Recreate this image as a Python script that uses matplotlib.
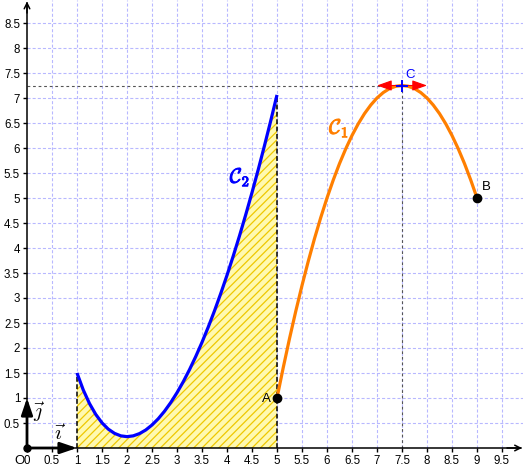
import matplotlib
matplotlib.use("Agg")
import matplotlib.pyplot as plt
import matplotlib.patheffects as pe

plt.rcParams["font.family"] = ["Liberation Sans", "DejaVu Sans"]
plt.rcParams["mathtext.fontset"] = "cm"
plt.rcParams["lines.scale_dashes"] = False
plt.rcParams["hatch.linewidth"] = 0.9

# curve C2 (blue)
c2_x = [1, 1.125, 1.25, 1.375, 1.5, 1.625, 1.75, 1.875, 2, 2.125, 2.25, 2.375, 2.5,
        2.625, 2.75, 2.875, 3, 3.125, 3.25, 3.375, 3.5, 3.625, 3.75, 3.875, 4,
        4.125, 4.25, 4.375, 4.5, 4.625, 4.75, 4.875, 5]
c2_y = [1.5, 1.162, 0.889, 0.672, 0.503, 0.378, 0.293, 0.243, 0.227, 0.243, 0.288,
        0.360, 0.460, 0.585, 0.735, 0.909, 1.106, 1.325, 1.567, 1.830, 2.114, 2.419,
        2.744, 3.090, 3.455, 3.840, 4.244, 4.667, 5.109, 5.569, 6.049, 6.546, 7.062]

# curve C1 (orange)
c1_x = [5, 5.125, 5.25, 5.375, 5.5, 5.625, 5.75, 5.875, 6, 6.125, 6.25, 6.375, 6.5,
        6.625, 6.75, 6.875, 7, 7.125, 7.25, 7.375, 7.5, 7.625, 7.75, 7.875, 8,
        8.125, 8.25, 8.375, 8.5, 8.625, 8.75, 8.875, 9]
c1_y = [1, 1.609, 2.188, 2.734, 3.25, 3.734, 4.188, 4.609, 5, 5.359, 5.688, 5.984,
        6.25, 6.484, 6.688, 6.859, 7, 7.109, 7.188, 7.234, 7.25, 7.234, 7.188, 7.109,
        7, 6.859, 6.688, 6.484, 6.25, 5.984, 5.688, 5.359, 5]

pt_A = (5, 1)
pt_B = (9, 5)
pt_C = (7.5, 7.25)

x_ticks = [0, 0.5, 1, 1.5, 2, 2.5, 3, 3.5, 4, 4.5, 5, 5.5, 6, 6.5, 7, 7.5, 8, 8.5, 9, 9.5]
x_labels = ["0", "0.5", "1", "1.5", "2", "2.5", "3", "3.5", "4", "4.5", "5", "5.5",
            "6", "6.5", "7", "7.5", "8", "8.5", "9", "9.5"]
y_ticks = [0.5, 1, 1.5, 2, 2.5, 3, 3.5, 4, 4.5, 5, 5.5, 6, 6.5, 7, 7.5, 8, 8.5]
y_labels = ["0.5", "1", "1.5", "2", "2.5", "3", "3.5", "4", "4.5", "5", "5.5", "6",
            "6.5", "7", "7.5", "8", "8.5"]

fig = plt.figure(figsize=(5.23, 4.68), dpi=100)
ax = fig.add_axes([0, 0, 1, 1])
ax.set_xlim(-0.54, 9.92)
ax.set_ylim(-0.4, 8.96)

# grid
grid_kw = dict(color="#b8b8ff", lw=0.8, linestyle=(0, (2.2, 1.5)), zorder=0)
ax.vlines(x_ticks[1:], 0, 8.96, **grid_kw)
ax.hlines(y_ticks, 0, 9.92, **grid_kw)

# axes
for s in ["top", "right"]:
    ax.spines[s].set_visible(False)
ax.spines["left"].set_position(("data", 0))
ax.spines["bottom"].set_position(("data", 0))
ax.spines["left"].set_bounds(0, 8.9)
ax.spines["bottom"].set_bounds(0, 9.88)
ax.spines["left"].set_linewidth(1.1)
ax.spines["bottom"].set_linewidth(1.1)
ax.set_xticks(x_ticks, x_labels)
ax.set_yticks(y_ticks, y_labels)
ax.tick_params(direction="out", length=3, width=1, labelsize=8.3, pad=2)
ax.annotate("", xy=(0, 8.93), xytext=(0, 8.7),
            arrowprops=dict(arrowstyle="->", lw=1.1, color="black", shrinkA=0, shrinkB=0))
ax.annotate("", xy=(9.9, 0), xytext=(9.6, 0),
            arrowprops=dict(arrowstyle="->", lw=1.1, color="black", shrinkA=0, shrinkB=0))
ax.text(-0.05, -0.27, "O", fontsize=9.5, ha="right", va="center")

# hatched area under C2
ax.fill_between(c2_x, 0, c2_y, facecolor="#fff9b0", edgecolor="#efc800",
                hatch="////", linewidth=0, zorder=1)
ax.vlines([c2_x[0], c2_x[-1]], 0, [c2_y[0], c2_y[-1]], color="black", lw=1.1,
          linestyle=(0, (3.5, 1.8)), zorder=2)

# helper dashed lines for C
ax.hlines(pt_C[1], 0, pt_C[0], color="#555555", lw=0.8, linestyle=(0, (2, 2)), zorder=2)
ax.vlines(pt_C[0], 0, pt_C[1], color="#555555", lw=0.8, linestyle=(0, (2, 2)), zorder=2)

# curves
ax.plot(c2_x, c2_y, color="#0000ff", lw=2.3, solid_capstyle="butt", zorder=3)
ax.plot(c1_x, c1_y, color="#ff7f00", lw=2.3, solid_capstyle="butt", zorder=3)

# tangent at C
ax.annotate("", xy=(7.0, pt_C[1]), xytext=(8.0, pt_C[1]),
            arrowprops=dict(arrowstyle="<|-|>,head_length=0.45,head_width=0.16",
                            mutation_scale=20, lw=0.8, color="red",
                            shrinkA=0, shrinkB=0), zorder=4)
ax.plot(*pt_C, marker="+", color="#0000ff", ms=8, mew=1.4, zorder=5)
ax.text(7.66, 7.46, "C", color="#0000ff", fontsize=9.5, ha="center", va="center")

# points A, B
ax.plot(*pt_A, "o", color="black", ms=6, zorder=5)
ax.plot(*pt_B, "o", color="black", ms=6, zorder=5)
ax.text(4.78, 0.98, "A", fontsize=9.5, ha="center", va="center")
ax.text(9.18, 5.22, "B", fontsize=9.5, ha="center", va="center")

# curve names
ax.text(4.26, 5.42, r"$\mathcal{C}_2$", color="#0000ff", fontsize=15, ha="center",
        va="center", path_effects=[pe.withStroke(linewidth=0.7, foreground="#0000ff")])
ax.text(6.24, 6.4, r"$\mathcal{C}_1$", color="#ff7f00", fontsize=15, ha="center",
        va="center", path_effects=[pe.withStroke(linewidth=0.7, foreground="#ff7f00")])

# unit vectors
vec_kw = dict(arrowstyle="-|>,head_length=0.5,head_width=0.17", mutation_scale=20,
              lw=2.0, color="black", shrinkA=0, shrinkB=0)
ax.annotate("", xy=(1, 0), xytext=(0, 0), arrowprops=vec_kw, zorder=6)
ax.annotate("", xy=(0, 1), xytext=(0, 0), arrowprops=vec_kw, zorder=6)
ax.plot(0, 0, "o", color="black", ms=5, zorder=6)
ax.text(0.66, 0.27, r"$\vec{\imath}$", fontsize=15, ha="center", va="center")
ax.text(0.24, 0.72, r"$\vec{\jmath}$", fontsize=15, ha="center", va="center")

fig.savefig("out.png", dpi=100)
